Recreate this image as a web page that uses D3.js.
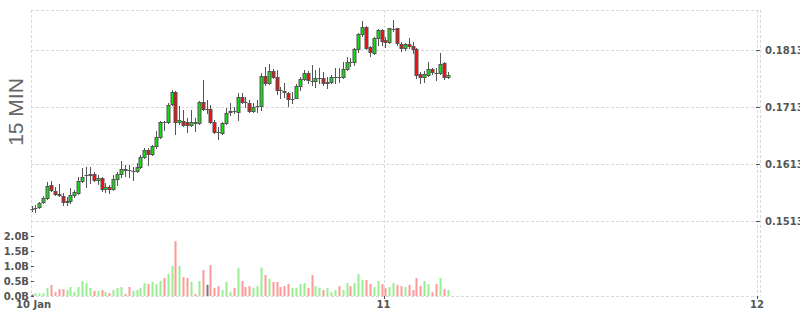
<!DOCTYPE html>
<html><head><meta charset="utf-8">
<script src="https://cdn.jsdelivr.net/npm/d3@7"></script>
<style>html,body{margin:0;padding:0;background:#fff;overflow:hidden}</style>
</head><body><svg id="c" width="800" height="315"></svg>
<script>
// ---- data ----
const firstCandle = Date.UTC(2023, 0, 10, 1, 22);
const stepMinutes = 15;
const opens = [0.15349,0.15354,0.15381,0.15458,0.15528,0.15762,0.15662,0.15604,0.15569,0.15463,
0.15476,0.15581,0.15627,0.15837,0.15934,0.15937,0.15949,0.15849,0.15879,0.15691,
0.15721,0.15686,0.15862,0.15949,0.16037,0.16025,0.16007,0.16007,0.16072,0.16248,
0.16370,0.16305,0.16441,0.16598,0.16872,0.16862,0.17183,0.17388,0.16862,0.16884,
0.16872,0.16814,0.16872,0.16844,0.17212,0.17095,0.17095,0.16872,0.16691,0.16669,
0.16844,0.17037,0.17065,0.17037,0.17311,0.17223,0.17195,0.17060,0.17151,0.17153,
0.17679,0.17546,0.17767,0.17651,0.17428,0.17405,0.17370,0.17267,0.17293,0.17504,
0.17621,0.17721,0.17591,0.17586,0.17642,0.17644,0.17546,0.17574,0.17660,0.17663,
0.17651,0.17791,0.17925,0.17919,0.18142,0.18405,0.18539,0.18177,0.18072,0.18335,
0.18481,0.18305,0.18265,0.18504,0.18511,0.18230,0.18160,0.18235,0.18200,0.18142,
0.17704,0.17662,0.17691,0.17791,0.17723,0.17721,0.17897,0.17651];
const highs = [0.15393,0.15411,0.15463,0.15569,0.15819,0.15837,0.15732,0.15774,0.15616,0.15556,
0.15714,0.15679,0.15907,0.16055,0.16077,0.16077,0.15995,0.15937,0.15907,0.15797,
0.15762,0.15937,0.15995,0.16183,0.16112,0.16112,0.16083,0.16148,0.16288,0.16416,
0.16405,0.16463,0.16709,0.16884,0.16890,0.17195,0.17428,0.17411,0.17153,0.17077,
0.16932,0.17077,0.16932,0.17235,0.17604,0.17253,0.17165,0.16902,0.16784,0.16867,
0.17107,0.17195,0.17130,0.17370,0.17376,0.17311,0.17253,0.17200,0.17253,0.17721,
0.17826,0.17884,0.17797,0.17779,0.17486,0.17546,0.17398,0.17388,0.17533,0.17656,
0.17779,0.17762,0.17867,0.17779,0.17809,0.17744,0.17656,0.17691,0.17809,0.17809,
0.17925,0.18012,0.17990,0.18160,0.18423,0.18644,0.18551,0.18200,0.18358,0.18498,
0.18493,0.18363,0.18521,0.18656,0.18521,0.18276,0.18258,0.18335,0.18270,0.18165,
0.17749,0.17762,0.17925,0.17814,0.17809,0.18072,0.17919,0.17744];
const lows = [0.15305,0.15293,0.15358,0.15446,0.15516,0.15656,0.15586,0.15569,0.15411,0.15411,
0.15451,0.15551,0.15604,0.15819,0.15732,0.15791,0.15832,0.15779,0.15662,0.15644,
0.15627,0.15674,0.15762,0.15897,0.15920,0.15897,0.15849,0.15990,0.16060,0.16235,
0.16112,0.16288,0.16405,0.16586,0.16726,0.16849,0.17165,0.16656,0.16832,0.16797,
0.16697,0.16797,0.16714,0.16832,0.17077,0.17019,0.16844,0.16674,0.16563,0.16656,
0.16832,0.16990,0.17025,0.16902,0.17200,0.17135,0.17042,0.17037,0.17048,0.17077,
0.17516,0.17533,0.17639,0.17358,0.17283,0.17311,0.17153,0.17195,0.17283,0.17428,
0.17604,0.17551,0.17516,0.17486,0.17546,0.17516,0.17463,0.17551,0.17546,0.17574,
0.17639,0.17779,0.17849,0.17867,0.18100,0.18376,0.18148,0.18025,0.18060,0.18218,
0.18218,0.18188,0.18253,0.18463,0.18218,0.18112,0.18130,0.18165,0.18077,0.17639,
0.17546,0.17569,0.17674,0.17709,0.17604,0.17709,0.17621,0.17639];
const closes = [0.15349,0.15358,0.15451,0.15539,0.15744,0.15674,0.15609,0.15586,0.15458,0.15481,
0.15591,0.15639,0.15837,0.15907,0.15937,0.15949,0.15849,0.15879,0.15686,0.15721,
0.15697,0.15862,0.15949,0.16037,0.16032,0.16018,0.16012,0.16072,0.16248,0.16370,
0.16305,0.16441,0.16598,0.16862,0.16867,0.17165,0.17388,0.16872,0.16897,0.16814,
0.16809,0.16872,0.16849,0.17212,0.17095,0.17095,0.16872,0.16697,0.16686,0.16844,
0.17019,0.17065,0.17060,0.17300,0.17212,0.17218,0.17060,0.17135,0.17155,0.17679,
0.17546,0.17767,0.17651,0.17428,0.17423,0.17398,0.17270,0.17270,0.17504,0.17621,
0.17721,0.17604,0.17586,0.17634,0.17646,0.17546,0.17574,0.17651,0.17663,0.17658,
0.17791,0.17925,0.17919,0.18142,0.18405,0.18539,0.18160,0.18100,0.18335,0.18481,
0.18288,0.18276,0.18511,0.18506,0.18248,0.18160,0.18235,0.18200,0.18142,0.17691,
0.17662,0.17704,0.17791,0.17739,0.17719,0.17879,0.17651,0.17691];
const volumesB = [0.05,0.09,0.09,0.09,0.27,0.37,0.13,0.23,0.23,0.2,
0.3,0.13,0.3,0.5,0.43,0.27,0.17,0.17,0.2,0.13,
0.1,0.2,0.27,0.3,0.07,0.3,0.17,0.2,0.27,0.43,
0.4,0.47,0.4,0.5,0.6,0.73,1.0,1.83,1.0,0.63,
0.6,0.47,0.07,0.5,0.87,0.37,1.03,0.27,0.33,0.2,
0.47,0.13,0.27,0.93,0.5,0.3,0.33,0.27,0.33,0.95,
0.7,0.57,0.47,0.47,0.3,0.33,0.4,0.27,0.27,0.4,
0.43,0.27,0.7,0.33,0.27,0.2,0.27,0.13,0.2,0.33,
0.2,0.43,0.33,0.43,0.73,0.53,0.53,0.4,0.3,0.5,
0.4,0.27,0.3,0.43,0.37,0.33,0.3,0.37,0.2,0.6,
0.33,0.5,0.4,0.13,0.4,0.6,0.23,0.2];
const priceTicks = [0.1513, 0.1613, 0.1713, 0.1813];
const priceTickLabels = ["0.1513", "0.1613", "0.1713", "0.1813"];
const volumeTicks = [0, 0.5, 1.0, 1.5, 2.0];
const volumeTickLabels = ["0.0B", "0.5B", "1.0B", "1.5B", "2.0B"];
const dateTicks = [Date.UTC(2023, 0, 10, 1, 22), Date.UTC(2023, 0, 11), Date.UTC(2023, 0, 12)];
const dateTickLabels = ["10 Jan", "11", "12"];
const paneLabel = "15 MIN";

// ---- build ----
const candles = opens.map((o, i) => ({
  t: new Date(firstCandle + i * stepMinutes * 60000),
  o, h: highs[i], l: lows[i], c: closes[i], v: volumesB[i]
}));

const L = 31, R = 760, T = 10, B = 296;
const x = d3.scaleUtc()
  .domain([new Date(Date.UTC(2023, 0, 10, 1, 20)), new Date(Date.UTC(2023, 0, 12, 0, 12))])
  .range([L, R]);
const yP = d3.scaleLinear().domain([0.1513, 0.1813]).range([221, 50]);
const yV = d3.scaleLinear().domain([0, 2]).range([B, 236]);

const svg = d3.select("#c");
const gridColor = "#d9d9d9";
const textColor = "#555";
const font = "'DejaVu Sans', Verdana, sans-serif";
const snap = v => Math.round(v) + 0.5;

const grid = svg.append("g").attr("stroke", gridColor).attr("stroke-width", 1)
  .attr("stroke-dasharray", "3,2").attr("fill", "none");
// frame
grid.append("line").attr("x1", L).attr("x2", R + 1).attr("y1", snap(T)).attr("y2", snap(T));
grid.append("line").attr("x1", L).attr("x2", R + 1).attr("y1", snap(B)).attr("y2", snap(B));
grid.append("line").attr("x1", snap(L - 0.5)).attr("x2", snap(L - 0.5)).attr("y1", T).attr("y2", B);
grid.append("line").attr("x1", snap(R)).attr("x2", snap(R)).attr("y1", T).attr("y2", B);
// price grid
priceTicks.forEach(p => {
  grid.append("line").attr("x1", L).attr("x2", R).attr("y1", snap(yP(p))).attr("y2", snap(yP(p)));
});
// date grid
dateTicks.slice(1).forEach(t => {
  grid.append("line").attr("x1", snap(x(t))).attr("x2", snap(x(t))).attr("y1", T).attr("y2", B);
});

// volume bars
const volColor = d => d.c > d.o ? "#98ee90" : (d.c < d.o ? "#ff9898" : "#777");
svg.append("g").selectAll("rect").data(candles).join("rect")
  .attr("x", d => Math.round(x(d.t)) - 0.5)
  .attr("width", 2)
  .attr("y", d => yV(d.v))
  .attr("height", d => yV(0) - yV(d.v))
  .attr("fill", volColor);

// candles
const cg = svg.append("g");
candles.forEach(d => {
  const r = Math.round(x(d.t));
  const cx = r + 0.5;
  cg.append("line").attr("x1", cx).attr("x2", cx)
    .attr("y1", Math.round(yP(d.h))).attr("y2", Math.round(yP(d.l)) + 1)
    .attr("stroke", "#555").attr("stroke-width", 1);
  const y1 = snap(yP(Math.max(d.o, d.c)));
  const y2 = snap(yP(Math.min(d.o, d.c)));
  if (y2 - y1 < 1) {
    cg.append("line").attr("x1", r - 1.5).attr("x2", r + 2.5).attr("y1", y1).attr("y2", y1)
      .attr("stroke", "#555").attr("stroke-width", 1);
  } else {
    cg.append("rect").attr("x", r - 1).attr("width", 3)
      .attr("y", y1).attr("height", y2 - y1)
      .attr("fill", d.c >= d.o ? "#13dd13" : "#ee1111")
      .attr("stroke", "#555").attr("stroke-width", 1);
  }
});

// price axis (right)
const pa = svg.append("g").attr("font-family", font).attr("font-size", 10)
  .attr("font-weight", "bold").attr("fill", textColor);
priceTicks.forEach((p, i) => {
  pa.append("line").attr("x1", R - 4).attr("x2", R).attr("y1", snap(yP(p))).attr("y2", snap(yP(p)))
    .attr("stroke", textColor);
  pa.append("text").attr("x", R + 5).attr("y", yP(p)).attr("dy", "0.35em").text(priceTickLabels[i]);
});

// volume axis (left)
const va = svg.append("g").attr("font-family", font).attr("font-size", 10)
  .attr("font-weight", "bold").attr("fill", textColor);
volumeTicks.forEach((v, i) => {
  va.append("line").attr("x1", L).attr("x2", L + 3).attr("y1", snap(yV(v))).attr("y2", snap(yV(v)))
    .attr("stroke", textColor);
  va.append("text").attr("x", L - 2).attr("y", yV(v)).attr("dy", "0.35em")
    .attr("text-anchor", "end").text(volumeTickLabels[i]);
});

// date axis
const da = svg.append("g").attr("font-family", font).attr("font-size", 10)
  .attr("font-weight", "bold").attr("fill", textColor);
dateTicks.forEach((t, i) => {
  if (i > 0) da.append("line").attr("x1", snap(x(t))).attr("x2", snap(x(t))).attr("y1", B).attr("y2", B + 3)
    .attr("stroke", textColor);
  da.append("text").attr("x", x(t) + (i === 0 ? 2 : 0)).attr("y", 308).attr("text-anchor", "middle")
    .text(dateTickLabels[i]);
});

// pane label
svg.append("text").attr("transform", "translate(23,112) rotate(-90)")
  .attr("text-anchor", "middle").attr("font-family", "'Liberation Sans', Arial, sans-serif")
  .attr("font-size", 21).attr("fill", "#666").text(paneLabel);
</script></body></html>
